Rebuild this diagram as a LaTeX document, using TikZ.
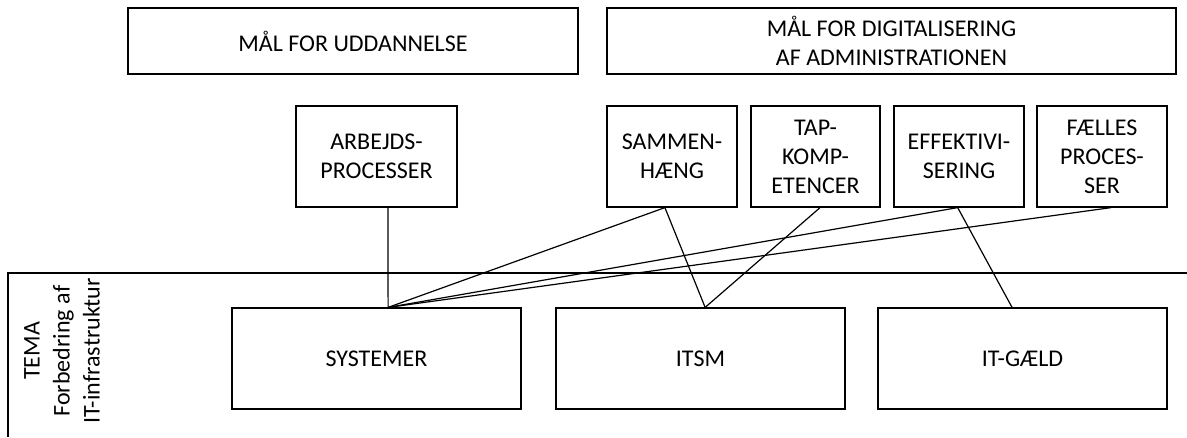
\documentclass[tikz,border=0pt]{standalone}
\usepackage{fontspec}
\setmainfont{Carlito}
\usetikzlibrary{calc}
\begin{document}
\begin{tikzpicture}[x=1pt,y=-1pt,
  box/.style={draw, line width=1.2pt, inner sep=0pt, align=center,
    font=\fontsize{24}{29}\selectfont},
  conn/.style={line width=1.2pt}]
\useasboundingbox (0,0) rectangle (1187,437);
% top goal boxes
\node[box, minimum width=450, minimum height=66] (mu) at (353,41) {MÅL FOR UDDANNELSE};
\node[box, minimum width=569, minimum height=66] (md) at (891.5,41) {MÅL FOR DIGITALISERING\\AF ADMINISTRATIONEN};
% middle boxes
\node[box, minimum width=161, minimum height=101] (arb) at (376.5,156.5) {ARBEJDS-\\PROCESSER};
\node[box, minimum width=130, minimum height=101] (sam) at (672,156.5) {SAMMEN-\\HÆNG};
\node[box, minimum width=129, minimum height=101] (tap) at (815.5,156.5) {TAP-\\KOMP-\\ETENCER};
\node[box, minimum width=130, minimum height=101] (eff) at (959,156.5) {EFFEKTIVI-\\SERING};
\node[box, minimum width=130, minimum height=101] (fae) at (1102,156.5) {FÆLLES\\PROCES-\\SER};
% theme band
\coordinate (bandL) at (8,273);
\coordinate (bandR) at (1187,273);
\coordinate (bandB) at (8,437);
\draw[conn] (bandR) -- (bandL) -- (bandB);
\node[rotate=90, align=center, inner sep=0pt, font=\fontsize{24}{30}\selectfont] (tema) at (62,351) {TEMA\\Forbedring af\\IT-infrastruktur};
% bottom boxes
\node[box, minimum width=289, minimum height=101] (sys) at (376.5,358.5) {SYSTEMER};
\node[box, minimum width=289, minimum height=101] (itsm) at (700.5,358.5) {ITSM};
\node[box, minimum width=289, minimum height=101] (itg) at (1022.5,358.5) {IT-GÆLD};
% connection points
\coordinate (arbB) at ($(arb.south west)!0.571!(arb.south east)$);
\coordinate (samB) at ($(sam.south west)!0.446!(sam.south east)$);
\coordinate (tapB) at ($(tap.south west)!0.535!(tap.south east)$);
\coordinate (effB) at ($(eff.south west)!0.49!(eff.south east)$);
\coordinate (faeB) at ($(fae.south west)!0.57!(fae.south east)$);
\coordinate (sysT) at ($(sys.north west)!0.54!(sys.north east)$);
\coordinate (itsmT) at ($(itsm.north west)!0.516!(itsm.north east)$);
\coordinate (itgT) at ($(itg.north west)!0.464!(itg.north east)$);
% connectors
\draw[conn] (arbB) -- (sysT);
\draw[conn] (samB) -- (sysT);
\draw[conn] (samB) -- (itsmT);
\draw[conn] (tapB) -- (itsmT);
\draw[conn] (effB) -- (sysT);
\draw[conn] (effB) -- (itgT);
\draw[conn] (faeB) -- (sysT);
\end{tikzpicture}
\end{document}
